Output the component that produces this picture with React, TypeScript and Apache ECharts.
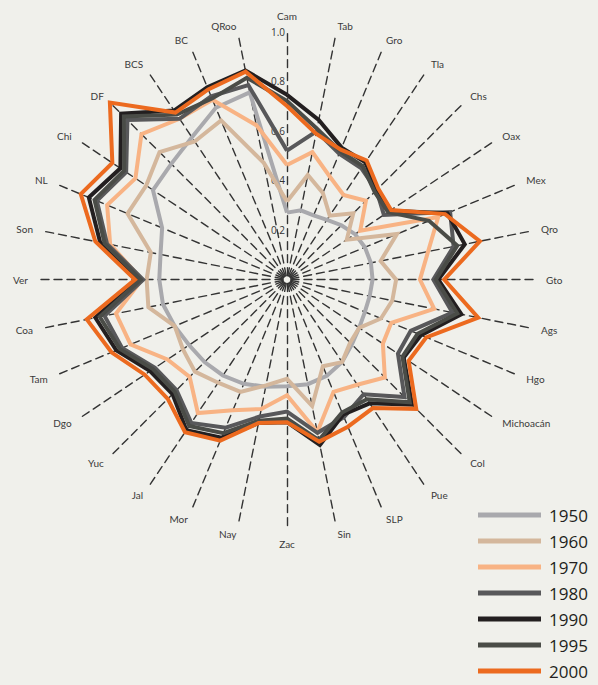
import React, { useEffect, useRef } from 'react';
import * as echarts from 'echarts';

// Categories in clockwise order starting at the top
const categories = ['Cam', 'Tab', 'Gro', 'Tla', 'Chs', 'Oax', 'Mex', 'Qro', 'Gto', 'Ags', 'Hgo', 'Michoacán', 'Col', 'Pue', 'SLP', 'Sin', 'Zac', 'Nay', 'Mor', 'Jal', 'Yuc', 'Dgo', 'Tam', 'Coa', 'Ver', 'Son', 'NL', 'Chi', 'DF', 'BCS', 'BC', 'QRoo'];

const years = ['1950', '1960', '1970', '1980', '1990', '1995', '2000'];
const colors = ['#a9a9ad', '#d4b79c', '#f8b384', '#58585a', '#231f20', '#4a4c47', '#ec6a1f'];

const tickLabels = ['0.2', '0.4', '0.6', '0.8', '1.0'];

const v1950 = [0.27, 0.285, 0.28, 0.29, 0.31, 0.33, 0.34, 0.345, 0.345, 0.34, 0.34, 0.35, 0.37, 0.40, 0.42, 0.43, 0.43, 0.44, 0.455, 0.465, 0.47, 0.475, 0.49, 0.51, 0.515, 0.52, 0.545, 0.65, 0.66, 0.69, 0.75, 0.77];
const v1960 = [0.315, 0.43, 0.378, 0.31, 0.378, 0.29, 0.48, 0.385, 0.44, 0.433, 0.41, 0.35, 0.36, 0.40, 0.378, 0.52, 0.40, 0.435, 0.49, 0.50, 0.525, 0.505, 0.49, 0.57, 0.566, 0.56, 0.696, 0.683, 0.727, 0.67, 0.695, 0.48];
const v1970 = [0.462, 0.524, 0.45, 0.41, 0.45, 0.355, 0.66, 0.58, 0.536, 0.605, 0.455, 0.465, 0.558, 0.51, 0.49, 0.627, 0.466, 0.532, 0.57, 0.647, 0.555, 0.58, 0.683, 0.703, 0.585, 0.727, 0.785, 0.735, 0.83, 0.78, 0.785, 0.635];
const v1980 = [0.52, 0.61, 0.55, 0.54, 0.51, 0.47, 0.712, 0.685, 0.59, 0.68, 0.54, 0.538, 0.67, 0.556, 0.60, 0.63, 0.532, 0.563, 0.646, 0.695, 0.63, 0.64, 0.72, 0.75, 0.58, 0.74, 0.83, 0.78, 0.91, 0.78, 0.80, 0.80];
const v1990 = [0.745, 0.656, 0.576, 0.569, 0.51, 0.50, 0.70, 0.731, 0.61, 0.717, 0.585, 0.566, 0.713, 0.60, 0.59, 0.68, 0.575, 0.59, 0.69, 0.73, 0.653, 0.664, 0.745, 0.788, 0.60, 0.768, 0.865, 0.808, 0.946, 0.82, 0.84, 0.86];
const v1995 = [0.72, 0.62, 0.56, 0.55, 0.50, 0.49, 0.62, 0.70, 0.60, 0.70, 0.57, 0.56, 0.70, 0.58, 0.58, 0.66, 0.56, 0.58, 0.67, 0.71, 0.64, 0.65, 0.73, 0.77, 0.59, 0.75, 0.84, 0.79, 0.93, 0.80, 0.79, 0.83];
const v2000 = [0.70, 0.60, 0.567, 0.578, 0.52, 0.505, 0.69, 0.793, 0.634, 0.786, 0.608, 0.59, 0.737, 0.623, 0.642, 0.666, 0.575, 0.59, 0.703, 0.74, 0.68, 0.69, 0.766, 0.823, 0.613, 0.788, 0.90, 0.847, 1.01, 0.81, 0.83, 0.855];

const seriesValues = [v1950, v1960, v1970, v1980, v1990, v1995, v2000];

// ECharts lays radar indicators counter-clockwise; reorder clockwise lists
const toEc = <T,>(arr: T[]): T[] => [arr[0], ...arr.slice(1).reverse()];

export default function App() {
  const ref = useRef<HTMLDivElement>(null);
  useEffect(() => {
    if (!ref.current) return;
    const chart = echarts.init(ref.current, null, { renderer: 'svg' });
    const font = 'Open Sans';
    chart.setOption({
      animation: false,
      backgroundColor: '#f0f0eb',
      legend: {
        orient: 'vertical',
        left: 473,
        top: 500,
        height: 200,
        icon: 'rect',
        itemWidth: 63,
        itemHeight: 5,
        itemGap: 6,
        selectedMode: false,
        data: years,
        textStyle: { fontSize: 17, color: '#231f20', fontFamily: font, lineHeight: 20, padding: [0, 0, 0, 3] },
      },
      radar: {
        center: [287, 279.6],
        radius: 248,
        startAngle: 90,
        splitNumber: 5,
        indicator: toEc(categories).map((name, i) => ({
          name,
          min: 0,
          max: 1,
          axisLabel: { show: i === 0 },
        })),
        axisName: { color: '#3a3a3a', fontSize: 10, fontFamily: 'Lato' },
        axisNameGap: 11,
        axisLine: { lineStyle: { color: '#333333', width: 1.4, type: [8, 5], dashOffset: 9 } },
        splitLine: { show: false },
        splitArea: { show: false },
        axisTick: { show: false },
        axisLabel: {
          show: false,
          fontSize: 10,
          color: '#333333',
          fontFamily: font,
          margin: 2,
          formatter: (val: number) => {
            const idx = Math.round(val / 0.2) - 1;
            return idx >= 0 && idx < tickLabels.length ? tickLabels[idx] : '';
          },
        },
      },
      series: [
        {
          type: 'radar',
          symbol: 'none',
          silent: true,
          data: years.map((y, i) => ({
            name: y,
            value: toEc(seriesValues[i]),
            symbol: 'none',
            lineStyle: { color: colors[i], width: 4, join: 'miter' },
            itemStyle: { color: colors[i] },
          })),
        },
      ],
    });
    return () => chart.dispose();
  }, []);
  return (
    <div
      ref={ref}
      style={{ position: 'fixed', left: 0, top: 0, width: 598, height: 685, background: '#f0f0eb' }}
    />
  );
}
